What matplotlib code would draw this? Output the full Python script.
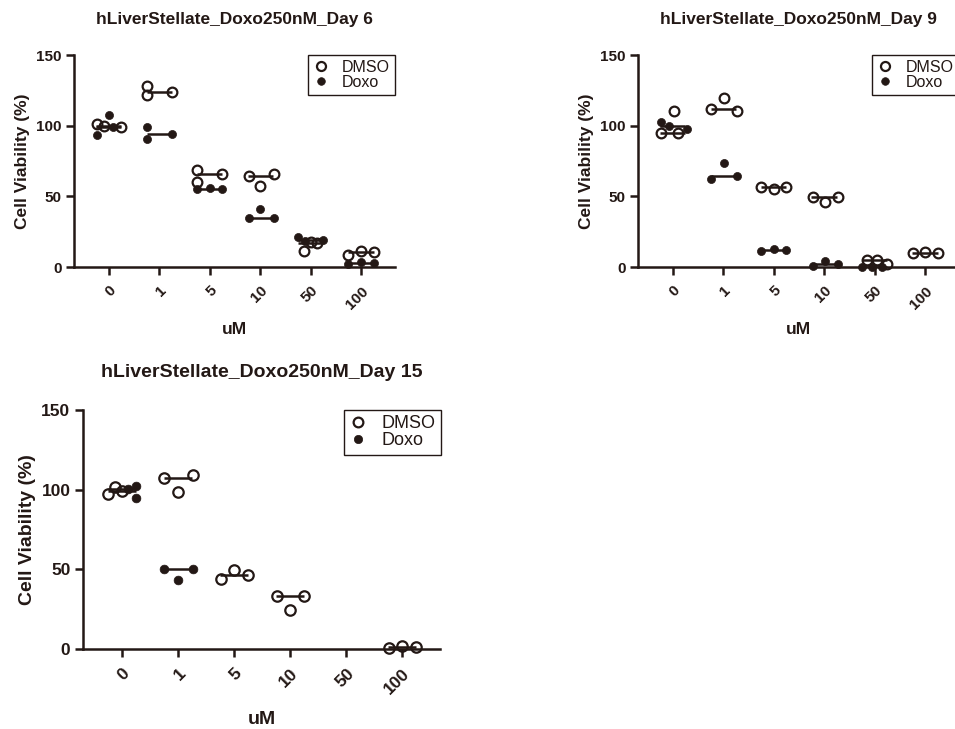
import numpy as np
import matplotlib.pyplot as plt
from matplotlib.lines import Line2D

plt.rcParams['font.family'] = ['Liberation Sans', 'DejaVu Sans']

INK = '#231815'

## Data #############################################################
conc = ['0', '1', '5', '10', '50', '100']

# Day 6 (3 replicates per dose)
d6_dmso = [[101.0, 99.5, 98.8], [128.0, 121.8, 123.6], [68.8, 60.3, 65.7],
           [64.1, 57.0, 65.5], [11.5, 17.5, 17.0], [8.7, 11.1, 10.4]]
d6_doxo = [[93.5, 107.5, 99.2], [98.9, 90.4, 94.4], [54.9, 55.8, 54.9],
           [34.6, 41.4, 34.6], [21.0, 18.5, 19.3], [2.4, 3.3, 2.8]]
# Day 9
d9_dmso = [[94.7, 110.2, 94.7], [111.9, 119.4, 110.7], [56.3, 55.3, 56.3],
           [49.5, 45.7, 49.9], [5.2, 4.7, 2.4], [9.9, 10.6, 9.9]]
d9_doxo = [[102.5, 100.0, 98.0], [62.2, 73.9, 64.1], [11.1, 12.7, 11.8],
           [0.9, 4.0, 2.4], [0.2, 0.0, 0.3], []]
# Day 15
d15_dmso = [[97.3, 101.5, 99.5], [107.3, 98.3, 109.2], [44.1, 49.4, 46.2],
            [33.1, 24.7, 33.1], [], [0.6, 1.7, 1.0]]
d15_doxo = [[100.5, 102.5, 95.0], [50.2, 43.5, 50.2], [], [], [], []]

## Layout: horizontal spread of the dots inside each column ##########
S = [-0.25, 0.0, 0.25]
d6_dmso_x = [[-0.24, -0.09, 0.25], [-0.24, -0.24, 0.26], [-0.25, -0.25, 0.25], [-0.23, 0.0, 0.27], [-0.13, 0.0, 0.13], S]
d6_doxo_x = [[-0.24, 0.0, 0.08], [-0.24, -0.24, 0.26], S, [-0.23, 0.0, 0.27], [-0.25, -0.11, 0.25], S]
d9_dmso_x = [[-0.23, 0.02, 0.10], [-0.25, 0.02, 0.27], S, [-0.23, 0.01, 0.27], [-0.15, 0.05, 0.25], [-0.23, 0.0, 0.25]]
d9_doxo_x = [[-0.23, -0.07, 0.28], [-0.25, 0.02, 0.27], S, [-0.23, 0.01, 0.27], [-0.25, -0.05, 0.15], S]
d15_dmso_x = [[-0.25, -0.12, 0.0], [-0.25, 0.0, 0.27], [-0.24, 0.0, 0.25], [-0.24, 0.0, 0.25], S, [-0.24, 0.0, 0.25]]
d15_doxo_x = [[0.12, 0.25, 0.25], [-0.25, 0.0, 0.27], S, S, S, S]


def panel(ax, dmso, doxo, dmso_x, doxo_x, title, fs, ms, tpad):
    for i in range(len(conc)):
        for vals, offs, filled in ((dmso[i], dmso_x[i], False), (doxo[i], doxo_x[i], True)):
            if len(vals) == 0:
                continue
            ax.hlines(np.median(vals), i - 0.25, i + 0.25, color=INK, lw=1.8, zorder=2)
            if filled:
                ax.plot(i + np.array(offs[:len(vals)]), vals, 'o', ms=ms - 1.2, mfc=INK,
                        mec=INK, mew=0.5, ls='none', zorder=3, clip_on=False)
            else:
                ax.plot(i + np.array(offs[:len(vals)]), vals, 'o', ms=ms, mfc='none',
                        mec=INK, mew=1.6, ls='none', zorder=3, clip_on=False)
    ax.set_xlim(-0.69, 5.67)
    ax.set_ylim(0, 150)
    ax.set_yticks([0, 50, 100, 150])
    ax.set_xticks(range(len(conc)))
    ax.set_xticklabels(conc, rotation=45, ha='right', rotation_mode='anchor',
                       fontweight='bold', fontsize=fs)
    for t in ax.get_yticklabels():
        t.set_fontweight('bold')
        t.set_fontsize(fs)
    for s in ['top', 'right']:
        ax.spines[s].set_visible(False)
    for s in ['left', 'bottom']:
        ax.spines[s].set_linewidth(1.8)
        ax.spines[s].set_color(INK)
    ax.tick_params(axis='both', colors=INK, width=1.8, length=6, pad=3)
    ax.tick_params(axis='x', pad=6)
    ax.set_ylabel('Cell Viability (%)', fontweight='bold', fontsize=fs + 1.5, color=INK)
    ax.set_xlabel('uM', fontweight='bold', fontsize=fs + 1.5, color=INK)
    ax.xaxis.set_label_coords(0.5, -0.26)
    ax.set_title(title, fontweight='bold', fontsize=fs + 1.5, color=INK, pad=tpad)
    h = [Line2D([], [], marker='o', ls='none', ms=ms - 0.5, mfc='none', mec=INK, mew=1.6, label='DMSO'),
         Line2D([], [], marker='o', ls='none', ms=ms - 1.5, mfc=INK, mec=INK, mew=0.5, label='Doxo')]
    leg = ax.legend(handles=h, loc='upper left', bbox_to_anchor=(0.73, 1.0), borderaxespad=0,
                    fancybox=False, edgecolor=INK, fontsize=fs + 0.5, handlelength=1.0,
                    handletextpad=0.8, labelspacing=0.0, borderpad=0.3, framealpha=1)
    leg.get_frame().set_linewidth(1.0)
    for t in leg.get_texts():
        t.set_color(INK)


fig = plt.figure(figsize=(9.55, 7.29), dpi=100)
ax1 = fig.add_axes([0.0775, 0.6337, 0.336, 0.2908])
ax2 = fig.add_axes([0.668, 0.6337, 0.336, 0.2908])
ax3 = fig.add_axes([0.0869, 0.1097, 0.3738, 0.3278])

panel(ax1, d6_dmso, d6_doxo, d6_dmso_x, d6_doxo_x, 'hLiverStellate_Doxo250nM_Day 6', 11, 7, 22)
panel(ax2, d9_dmso, d9_doxo, d9_dmso_x, d9_doxo_x, 'hLiverStellate_Doxo250nM_Day 9', 11, 7, 22)
panel(ax3, d15_dmso, d15_doxo, d15_dmso_x, d15_doxo_x, 'hLiverStellate_Doxo250nM_Day 15', 12.5, 7.5, 24)

plt.savefig('out.png', dpi=100)
